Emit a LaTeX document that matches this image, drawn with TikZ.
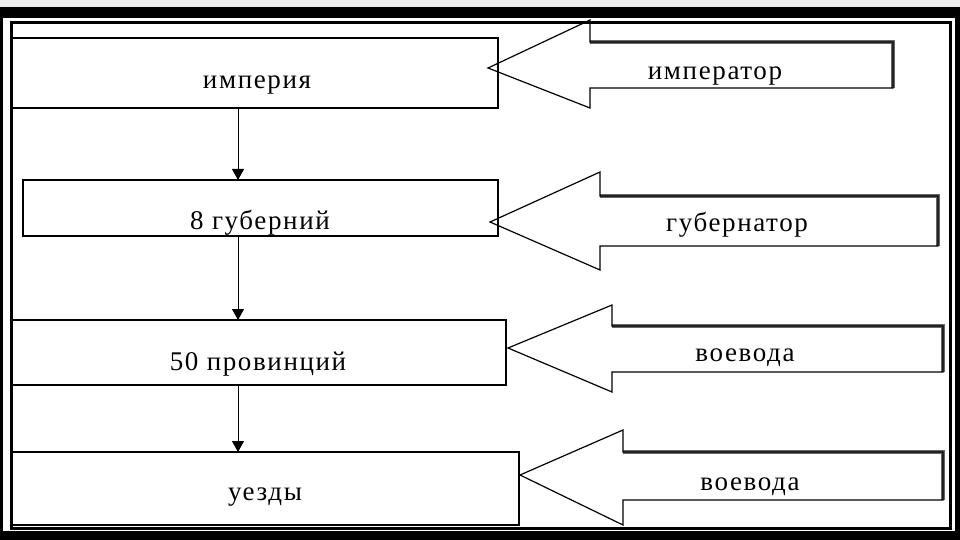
\documentclass[tikz,border=0pt]{standalone}
\usepackage{fontspec}
\setmainfont[LetterSpace=6]{Liberation Serif}
\usetikzlibrary{arrows.meta}
\begin{document}
\begin{tikzpicture}[x=1pt,y=-1pt,
  box/.style={draw,line width=1.3pt},
  lbl/.style={font=\fontsize{27}{30}\selectfont,inner sep=0pt},
  arr/.style={draw,line width=1.2pt},
  shadow/.style={draw=gray!80!black,line width=3.5pt},
  flow/.style={draw,line width=1pt,-{Triangle[length=11pt,width=12pt]}}]
\useasboundingbox (0,0) rectangle (960,540);
\fill[gray!15] (0,0) rectangle (960,7);
\fill[black] (0,7) rectangle (960,18);
\fill[black] (0,7) rectangle (3,540);
\fill[black] (955,7) rectangle (960,540);
\fill[black] (0,531) rectangle (960,540);
\draw[line width=3pt] (11,23) rectangle (950,528);
% boxes
\draw[box] (12,38) rectangle (498,108); \node[lbl] (b1) at (257,85) {империя};
\draw[box] (23,180) rectangle (498,236); \node[lbl] (b2) at (260,223) {8 губерний};
\draw[box] (12,320) rectangle (506,385); \node[lbl] (b3) at (258,364) {50 провинций};
\draw[box] (12,452) rectangle (519,525); \node[lbl] (b4) at (265,497) {уезды};
\coordinate (t1) at (238,108); \coordinate (h1) at (238,180);
\coordinate (t2) at (238,236); \coordinate (h2) at (238,320);
\coordinate (t3) at (238,385); \coordinate (h3) at (238,452);
\draw[flow] (t1) -- (h1); \draw[flow] (t2) -- (h2); \draw[flow] (t3) -- (h3);
% big arrows
\foreach \tx/\ty/\hx/\ht/\hb/\st/\sb/\rx/\txt/\lx/\ly/\n in {
  488/68/590/20/108/42/88/893/император/715/82/a1,
  490/222/600/172/270/196/246/938/губернатор/737/234/a2,
  508/348/612/305/392/326/372/943/воевода/745/364/a3,
  520/475/623/430/525/452/500/943/воевода/750/493/a4}{
  \draw[shadow] (\hx,\st) -- (\rx,\st) -- (\rx,\sb);
  \draw[arr] (\tx,\ty) -- (\hx,\ht) -- (\hx,\st) -- (\rx,\st) -- (\rx,\sb) -- (\hx,\sb) -- (\hx,\hb) -- cycle;
  \node[lbl] (\n) at (\lx,\ly) {\txt};
}
\end{tikzpicture}
\end{document}
